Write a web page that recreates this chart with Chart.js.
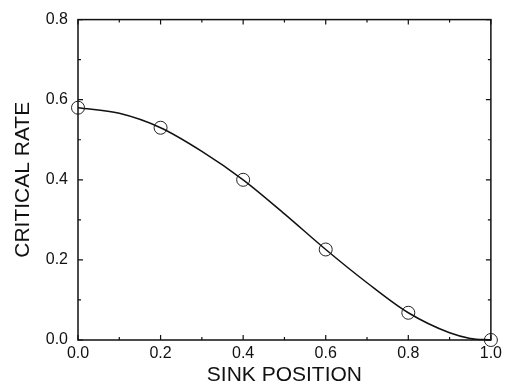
<!DOCTYPE html>
<html>
<head>
<meta charset="utf-8">
<script src="https://cdn.jsdelivr.net/npm/chart.js@4"></script>
<style>
  html, body { margin: 0; padding: 0; background: #fff; }
  #wrap { width: 506px; height: 388px; position: relative; }
</style>
</head>
<body>
<div id="wrap"><canvas id="chart"></canvas></div>
<script>
// measured points (circles)
const sinkPositions = [0.0, 0.2, 0.4, 0.6, 0.8, 1.0];
const criticalRates = [0.58, 0.53, 0.40, 0.226, 0.068, 0.0];

// smooth curve
const curvePositions = [0.0, 0.1, 0.2, 0.3, 0.4, 0.5, 0.6, 0.7, 0.8, 0.9, 0.95, 1.0];
const curveRates = [0.58, 0.566, 0.53, 0.471, 0.40, 0.315, 0.226, 0.143, 0.068, 0.018, 0.004, 0.0];

// axis ticks
const xMajorTicks = [0.0, 0.2, 0.4, 0.6, 0.8, 1.0];
const xMinorTicks = [0.1, 0.3, 0.5, 0.7, 0.9];
const yMajorTicks = [0.0, 0.2, 0.4, 0.6, 0.8];
const yMinorTicks = [0.1, 0.3, 0.5, 0.7];

const FONT = 'Liberation Sans, Arial, Helvetica, sans-serif';

// frame with inward ticks on all four sides
const framePlugin = {
  id: 'frame',
  afterDatasetsDraw(chart) {
    const { ctx, chartArea: a, scales } = chart;
    const x = scales.x, y = scales.y;
    ctx.save();
    ctx.strokeStyle = '#111';
    ctx.lineWidth = 1.5;
    ctx.strokeRect(a.left, a.top, a.right - a.left, a.bottom - a.top);
    ctx.lineWidth = 1.2;
    ctx.beginPath();
    const tickX = (v, len) => {
      const px = x.getPixelForValue(v);
      ctx.moveTo(px, a.bottom); ctx.lineTo(px, a.bottom - len);
      ctx.moveTo(px, a.top); ctx.lineTo(px, a.top + len);
    };
    const tickY = (v, len) => {
      const py = y.getPixelForValue(v);
      ctx.moveTo(a.left, py); ctx.lineTo(a.left + len, py);
      ctx.moveTo(a.right, py); ctx.lineTo(a.right - len, py);
    };
    xMajorTicks.forEach(v => tickX(v, 5));
    xMinorTicks.forEach(v => tickX(v, 3));
    yMajorTicks.forEach(v => tickY(v, 5));
    yMinorTicks.forEach(v => tickY(v, 3));
    ctx.stroke();
    ctx.restore();
  }
};

new Chart(document.getElementById('chart'), {
  type: 'scatter',
  data: {
    datasets: [
      {
        label: 'curve',
        data: curvePositions.map((p, i) => ({ x: p, y: curveRates[i] })),
        showLine: true,
        borderColor: '#111',
        borderWidth: 1.5,
        pointRadius: 0,
        cubicInterpolationMode: 'monotone',
        clip: false,
      },
      {
        label: 'critical rate',
        data: sinkPositions.map((p, i) => ({ x: p, y: criticalRates[i] })),
        showLine: false,
        backgroundColor: 'rgba(0,0,0,0)',
        borderColor: '#222',
        borderWidth: 1,
        pointRadius: 6.5,
        clip: false,
      },
    ],
  },
  options: {
    responsive: true,
    maintainAspectRatio: false,
    animation: false,
    layout: { padding: { top: 18, right: 14, left: 0, bottom: 0 } },
    plugins: {
      legend: { display: false },
      tooltip: { enabled: false },
    },
    scales: {
      x: {
        type: 'linear',
        min: 0,
        max: 1,
        afterFit: s => { s.height = 48; },
        ticks: {
          stepSize: 0.2,
          color: '#111',
          padding: 4,
          font: { family: FONT, size: 16 },
          callback: v => v.toFixed(1),
        },
        grid: { display: false, drawTicks: false },
        border: { display: false },
        title: {
          display: true,
          text: 'SINK POSITION',
          color: '#111',
          font: { family: FONT, size: 21 },
          padding: { top: 0, bottom: 0 },
        },
      },
      y: {
        type: 'linear',
        min: 0,
        max: 0.8,
        afterFit: s => { s.width = 78; },
        ticks: {
          stepSize: 0.2,
          color: '#111',
          padding: 10,
          font: { family: FONT, size: 16 },
          callback: v => v.toFixed(1),
        },
        grid: { display: false, drawTicks: false },
        border: { display: false },
        title: {
          display: true,
          text: 'CRITICAL RATE',
          color: '#111',
          font: { family: FONT, size: 21 },
          padding: { top: 11, bottom: 0 },
        },
      },
    },
  },
  plugins: [framePlugin],
});
</script>
</body>
</html>
